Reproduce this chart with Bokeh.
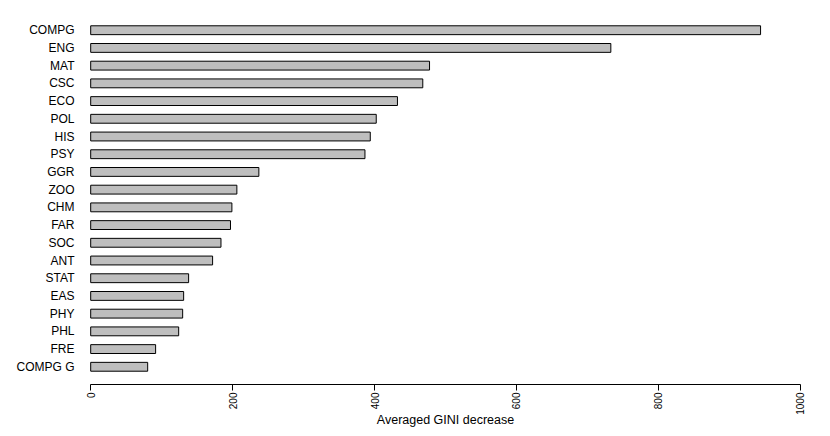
import math
from bokeh.plotting import figure
from bokeh.models import ColumnDataSource, FixedTicker, Range1d
from bokeh.embed import file_html
from bokeh.resources import INLINE

# Variables (top to bottom) and averaged Gini decrease
variables = ["COMPG", "ENG", "MAT", "CSC", "ECO", "POL", "HIS", "PSY", "GGR", "ZOO",
             "CHM", "FAR", "SOC", "ANT", "STAT", "EAS", "PHY", "PHL", "FRE", "COMPG G"]
gini = [944, 733, 477.5, 468, 432.3, 402.4, 394, 386.5, 237, 206,
        199, 197, 183.6, 171.8, 138, 131, 129.6, 124, 91.5, 80.3]
x_ticks = [0, 200, 400, 600, 800, 1000]
x_label = "Averaged GINI decrease"

n = len(variables)
ypos = [float(n - i) for i in range(n)]
src = ColumnDataSource(dict(y=ypos, v=gini, name=variables))

FONT = "Liberation Sans"

p = figure(width=822, height=434, output_backend="svg", toolbar_location=None,
           x_range=Range1d(-20, 1020), y_range=Range1d(0, n + 1),
           min_border_left=76, min_border_right=8, min_border_top=12, min_border_bottom=50)
p.outline_line_color = None
p.grid.visible = False
p.background_fill_color = "white"
p.border_fill_color = "white"

p.hbar(y="y", left=0, right="v", height=0.5, source=src,
       fill_color="#bebebe", line_color="black", line_width=1)

xa = p.xaxis[0]
xa.ticker = FixedTicker(ticks=x_ticks)
xa.bounds = (0, 1000)
xa.axis_line_color = "black"
xa.major_tick_line_color = "black"
xa.major_tick_out = 6
xa.major_tick_in = 0
xa.minor_tick_line_color = None
xa.major_label_orientation = math.pi / 2
xa.major_label_standoff = 2
xa.major_label_text_font = FONT
xa.major_label_text_font_size = "10px"
xa.major_label_text_color = "black"
xa.axis_label = x_label
xa.axis_label_text_font = FONT
xa.axis_label_text_font_size = "12.5px"
xa.axis_label_text_font_style = "normal"
xa.axis_label_text_color = "black"
xa.axis_label_standoff = -5

ya = p.yaxis[0]
ya.ticker = FixedTicker(ticks=ypos)
ya.major_label_overrides = {float(yv): nm for yv, nm in zip(ypos, variables)}
ya.axis_line_color = None
ya.major_tick_line_color = None
ya.minor_tick_line_color = None
ya.major_tick_out = 0
ya.major_tick_in = 0
ya.major_label_standoff = 2
ya.major_label_text_font = FONT
ya.major_label_text_font_size = "12px"
ya.major_label_text_color = "black"

open("out.html", "w").write(file_html(p, INLINE))
